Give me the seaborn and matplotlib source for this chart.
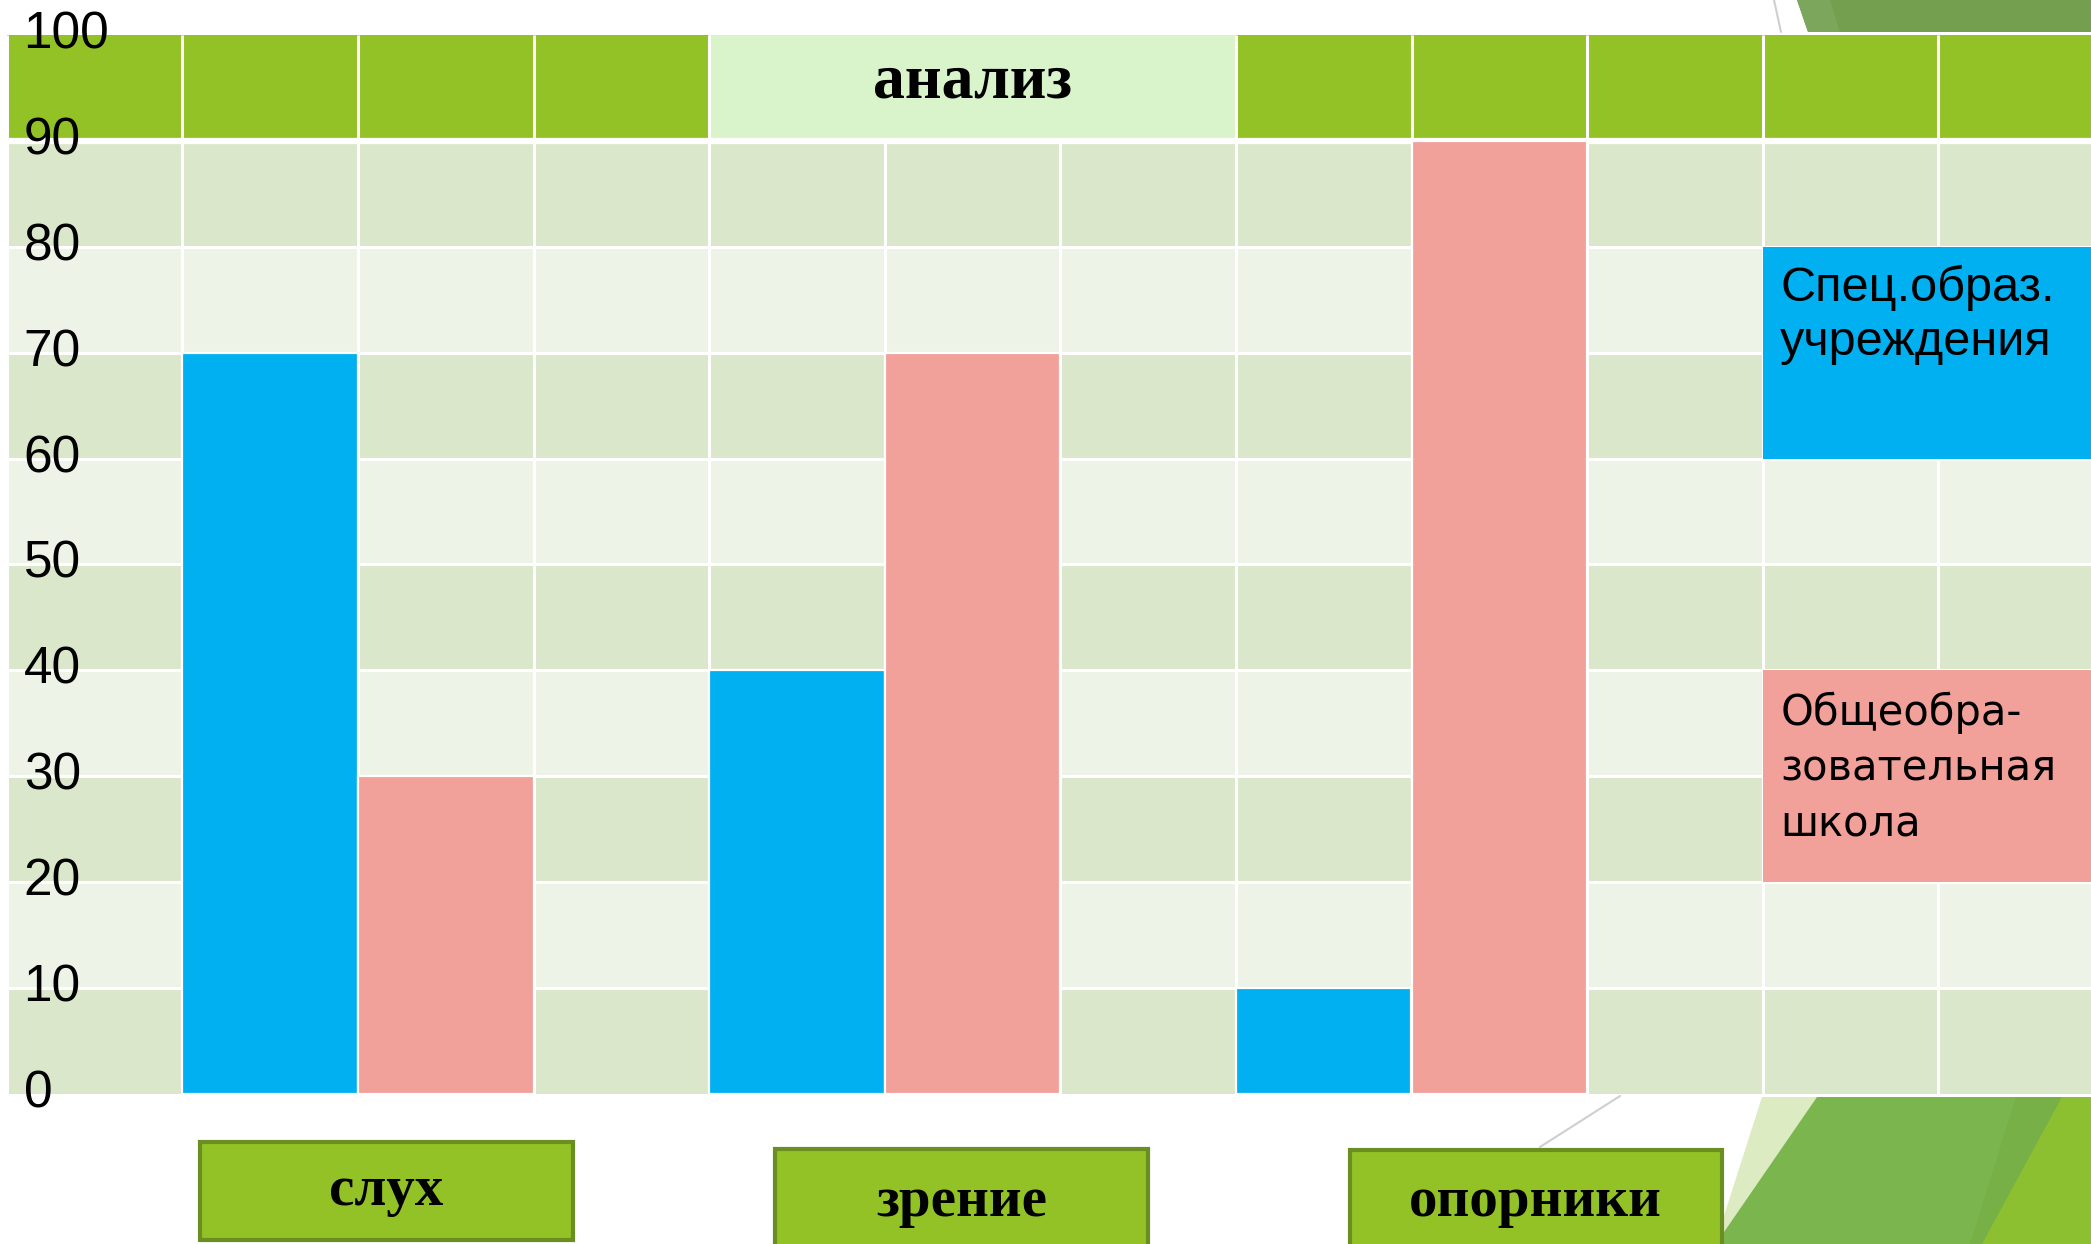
import pandas as pd
import matplotlib
matplotlib.use("Agg")
import matplotlib.pyplot as plt
from matplotlib.patches import Rectangle, Polygon
from matplotlib.lines import Line2D
import seaborn as sns

# Data
categories = ["слух", "зрение", "опорники"]
series_names = ["Спец.образ.\nучреждения", "Общеобра-\nзовательная\nшкола"]
spec_values = [70, 40, 10]
general_values = [30, 70, 90]
y_ticks = list(range(0, 101, 10))
header_text = "анализ"

# Colours
blue = "#00B0F0"
pink = "#F1A199"
row_dark = "#DBE7CA"
row_light = "#EDF3E7"
head_green = "#92C225"
head_light = "#D9F3CB"

sns.set_style("white")
plt.rcParams["font.family"] = ["Liberation Sans Narrow", "Liberation Sans", "DejaVu Sans"]
plt.rcParams["text.color"] = "black"
plt.rcParams["ytick.color"] = "black"

W, H = 2091, 1244
fig = plt.figure(figsize=(W / 100, H / 100), dpi=100)

# axes: grid left edge at 6.7px, column width 175.6px, y 0..100 from 1093.5px to 35.3px
col_w = 175.6
ax = fig.add_axes([0, (H - 1093.5) / H, 1, (1093.5 - 35.3) / H])
ax.set_facecolor("none")
ax.set_axisbelow(False)

# long table: each category takes 3 columns (blue, pink, empty)
rows = []
for i, cat in enumerate(categories):
    rows.append({"col": 1 + 3 * i, "value": spec_values[i], "series": series_names[0]})
    rows.append({"col": 2 + 3 * i, "value": general_values[i], "series": series_names[1]})
df = pd.DataFrame(rows)

# background cells
for r in range(9):
    ax.add_patch(Rectangle((-0.5, r * 10), 14, 10, color=row_dark if r % 2 == 0 else row_light, zorder=0, lw=0))
ax.add_patch(Rectangle((-0.5, 90), 14, 10, color=head_green, zorder=0, lw=0))
ax.add_patch(Rectangle((3.5, 90), 3, 10, color=head_light, zorder=0.5, lw=0))

# white cell borders
edges = [k + 0.5 for k in range(-1, 12)]
ax.vlines(edges, 0, 90, color="white", lw=2.2, zorder=1)
ax.vlines([e for e in edges if e not in (4.5, 5.5)], 90, 100, color="white", lw=2.2, zorder=1)
ax.hlines(list(range(10, 90, 10)), -0.5, 13, color="white", lw=2.2, zorder=1)
ax.hlines([90], -0.5, 13, color="white", lw=4.5, zorder=1)

sns.barplot(data=df, x="col", y="value", hue="series", order=list(range(12)),
            hue_order=series_names, palette=[blue, pink], dodge=False, width=1,
            saturation=1, edgecolor="white", linewidth=1.6, errorbar=None,
            legend=False, ax=ax, zorder=2)

ax.set_xlim(-0.5 - 6.7 / col_w, -0.5 + (W - 6.7) / col_w)
ax.set_ylim(0, 100)
ax.set_xticks([])
ax.set_xlabel("")
ax.set_ylabel("")
ax.set_yticks(y_ticks)
ax.set_yticklabels([str(t) for t in y_ticks])
ax.tick_params(axis="y", length=0, pad=-17, labelsize=37, labelcolor="black")
for lbl in ax.get_yticklabels():
    lbl.set_horizontalalignment("left")
    lbl.set_verticalalignment("center")
for s in ax.spines.values():
    s.set_visible(False)

# header text
ax.text(5, 95.5, header_text, ha="center", va="center", fontsize=46, fontweight="bold",
        family=["Liberation Serif", "DejaVu Serif"], color="black", zorder=4)

# legend boxes
ax.add_patch(Rectangle((9.5, 60), 4, 20, color=blue, zorder=3, lw=0))
ax.add_patch(Rectangle((9.5, 20), 4, 20, color=pink, zorder=3, lw=0))
ax.text(9.6, 78.3, series_names[0], ha="left", va="top", fontsize=35, linespacing=1.25,
        color="black", zorder=4)
ax.text(9.6, 38.0, series_names[1], ha="left", va="top", fontsize=30, linespacing=1.42,
        family=["DejaVu Sans"], color="black", zorder=4)


# decorations and category boxes in figure pixels
def fp(pts):
    return [(x / W, 1 - y / H) for x, y in pts]


decor = [
    ([(1797, 0), (2091, 0), (2091, 32), (1808, 32)], "#739F4F"),
    ([(1797, 0), (1830, 0), (1840, 32), (1808, 32)], "#7CA65C"),
    ([(1762, 1097), (1817, 1097), (1722, 1240), (1722, 1222)], "#DDEBC3"),
    ([(1817, 1097), (2091, 1097), (2091, 1244), (1722, 1244), (1722, 1235)], "#7BB54E"),
    ([(2016, 1097), (2065, 1097), (1995, 1244), (1970, 1244)], "#76B047"),
    ([(2062, 1097), (2091, 1097), (2091, 1244), (1982, 1244)], "#8DC030"),
]
for pts, c in decor:
    fig.add_artist(Polygon(fp(pts), closed=True, color=c, lw=0, zorder=0.5, transform=fig.transFigure))
for (x0, y0), (x1, y1) in [((1774, 0), (1781, 32)), ((1540, 1147), (1620, 1096))]:
    fig.add_artist(Line2D([x0 / W, x1 / W], [1 - y0 / H, 1 - y1 / H], color="#CFCFCF", lw=1.5,
                          zorder=0.6, transform=fig.transFigure))

boxes = [(200, 1141.5, 373, 98.5), (775, 1149, 373, 110), (1349.5, 1149.5, 372, 110)]
for cat, (bx, by, bw, bh) in zip(categories, boxes):
    fig.add_artist(Rectangle((bx / W, 1 - (by + bh) / H), bw / W, bh / H, facecolor=head_green,
                             edgecolor="#6B8E23", lw=3, zorder=2, transform=fig.transFigure))
    cy = by + (bh if bh < 100 else 105) / 2
    fig.text((bx + bw / 2) / W, 1 - cy / H, cat, ha="center", va="center", fontsize=41,
             fontweight="bold", family=["Liberation Serif", "DejaVu Serif"], color="black", zorder=3)

fig.savefig("out.png", dpi=100, facecolor="white")
